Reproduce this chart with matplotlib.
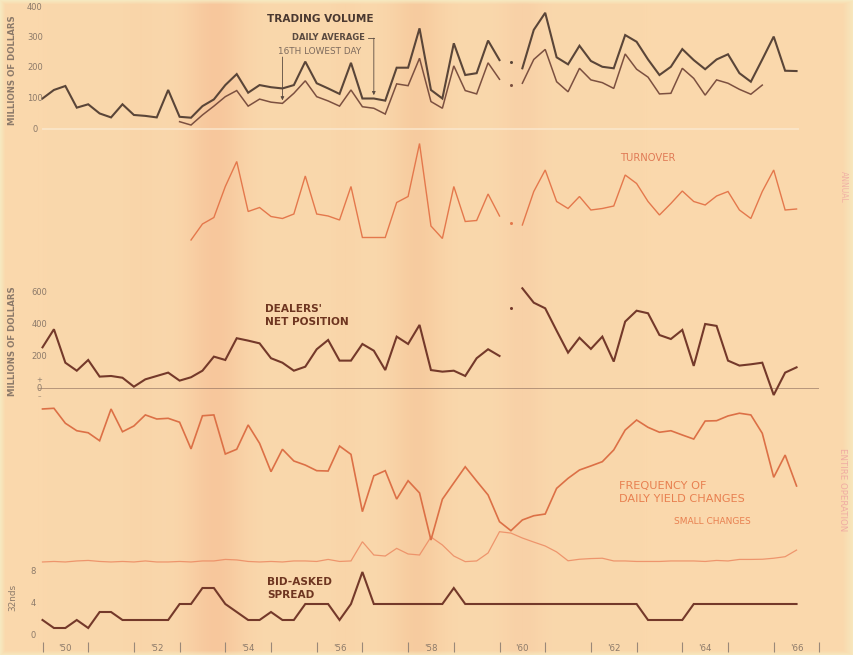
import numpy as np
import matplotlib
matplotlib.use("Agg")
import matplotlib.pyplot as plt
from matplotlib.transforms import blended_transform_factory

# ---------------------------------------------------------------- data
# quarterly observations, 1950 Q1 through 1966 Q3
quarters = 1950 + np.arange(67) * 0.25
BREAK = 41  # 1960 Q2 is shown as an isolated point

# trading volume, millions of dollars
volume_daily_avg = [100, 128, 141, 70, 81, 51, 38, 81, 46, 43, 38, 128, 40, 37, 75, 97,
                    144, 180, 119, 144, 137, 133, 144, 221, 150, 133, 115, 217, 100, 100, 93, 201,
                    201, 330, 128, 100, 281, 177, 183, 290, 226, 221, 199, 325, 381, 235, 212, 273,
                    223, 204, 199, 308, 286, 228, 177, 204, 262, 226, 196, 228, 245, 183, 155, 228,
                    303, 191, 190]
volume_16th_lowest = [None] * 12 + [24, 13, 46, 75,
                      106, 126, 75, 98, 88, 84, 117, 158, 106, 92, 75, 128, 73, 68, 49, 148,
                      142, 232, 90, 68, 207, 126, 115, 217, 163, 144, 150, 228, 261, 155, 122, 199,
                      161, 152, 133, 246, 196, 170, 115, 117, 199, 166, 111, 161, 150, 130, 114, 144,
                      None, None, None]

# turnover (index units)
turnover = [None] * 13 + [2.4, 5.6, 6.9,
            13.1, 18.1, 8.1, 8.9, 7.1, 6.7, 7.6, 15.2, 7.6, 7.2, 6.4, 13.1, 2.9, 2.9, 2.9, 9.9,
            11.1, 21.7, 5.2, 2.7, 13.1, 6.1, 6.3, 11.6, 7.2, 5.9, 5.4, 12.1, 16.4, 10.1, 8.7, 11.1,
            8.4, 8.7, 9.2, 15.4, 13.7, 10.1, 7.4, 9.7, 12.2, 10.1, 9.4, 11.2, 12.1, 8.4, 6.7, 12.1,
            16.4, 8.4, 8.6]

# dealers' net position, millions of dollars
dealers_position = [256, 369, 160, 110, 177, 73, 77, 66, 10, 56, 77, 98, 48, 69, 110, 198,
                    177, 313, 298, 281, 188, 160, 110, 135, 244, 302, 173, 173, 277, 235, 114, 323,
                    277, 396, 114, 104, 110, 77, 188, 244, 202, 504, 625, 535, 500, 360, 223, 316,
                    246, 323, 167, 417, 485, 469, 333, 308, 365, 140, 402, 390, 173, 142, 150, 160,
                    -42, 98, 131]

# frequency of daily yield changes, percent of days
freq_all_changes = [95.9, 96.3, 87.5, 83.1, 81.9, 77.2, 95.9, 82.5, 85.9, 92.4, 90.0, 90.4,
                    88.1, 72.4, 91.9, 92.4, 69.4, 72.2, 86.5, 75.7, 59.0, 72.2, 65.3, 62.9,
                    59.6, 59.4, 74.1, 69.2, 35.5, 56.6, 59.6, 42.9, 53.7, 46.5, 18.8, 42.8,
                    52.4, 61.9, 53.5, 45.3, 29.6, 24.3, 30.6, 33.1, 34.1, 49.2, 55.1, 60.0,
                    62.4, 64.9, 71.8, 83.5, 89.4, 85.1, 82.2, 83.1, 80.6, 78.2, 88.8, 89.0,
                    91.8, 93.4, 92.4, 81.6, 55.7, 68.8, 50.6]
freq_small_changes = [5.9, 6.2, 5.9, 6.5, 6.8, 6.2, 5.9, 6.2, 5.9, 6.5, 5.9, 5.9,
                      6.2, 5.9, 6.5, 6.5, 7.4, 7.1, 6.2, 5.9, 6.2, 5.9, 6.5, 6.5,
                      6.2, 7.4, 6.2, 6.5, 17.8, 10.0, 9.4, 13.9, 10.6, 10.0, 20.6, 15.9,
                      9.4, 6.1, 6.5, 11.2, 23.7, 22.9, 20.0, 17.6, 15.3, 11.8, 6.6, 7.5,
                      7.9, 8.1, 6.5, 6.5, 6.2, 6.2, 6.2, 6.5, 6.5, 6.5, 6.2, 6.8,
                      6.5, 7.4, 7.4, 7.5, 8.1, 9.0, 12.9]

# bid-asked spread, 32nds
bid_asked_spread = [2, 1, 1, 2, 1, 3, 3, 2, 2, 2, 2, 2, 4, 4, 6, 6,
                    4, 3, 2, 2, 3, 2, 2, 4, 4, 4, 2, 4, 8, 4, 4, 4,
                    4, 4, 4, 4, 6, 4, 4, 4, 4, 4, 4, 4, 4, 4, 4, 4,
                    4, 4, 4, 4, 4, 2, 2, 2, 2, 4, 4, 4, 4, 4, 4, 4,
                    4, 4, 4]

year_ticks = np.arange(1950, 1968)
label_years = np.arange(1950, 1967, 2)
year_labels = ["'%02d" % (y % 100) for y in label_years]

# ---------------------------------------------------------------- style
W, H, DPI = 854, 655, 100
PAPER = np.array([250, 216, 172]) / 255
DARK = "#5a4538"
BROWN = "#74392a"
SALMON = "#e4784c"
SALMON_LIGHT = "#ec8a62"
GREY_TXT = "#8c7a6a"

plt.rcParams["font.family"] = ["DejaVu Sans"]

fig = plt.figure(figsize=(W / DPI, H / DPI), dpi=DPI)
fig.patch.set_facecolor(PAPER)

# paper tone: warm base with a few darker vertical bands and a pale rim
bg = np.ones((H, W, 3)) * PAPER
xs = np.arange(W)
for cx, sd, rgb, k in [(215, 20, (246, 192, 150), 0.7), (417, 18, (245, 197, 152), 0.65),
                       (522, 15, (247, 202, 162), 0.5), (140, 12, (248, 206, 162), 0.3),
                       (345, 10, (248, 206, 162), 0.3)]:
    wgt = (np.exp(-0.5 * ((xs - cx) / sd) ** 2) * k)[None, :, None]
    bg = bg * (1 - wgt) + np.array(rgb)[None, None, :] / 255 * wgt
ys = np.arange(H)
rim = np.zeros((H, W))
rim = np.maximum(rim, np.clip((5 - xs[None, :]) / 5, 0, 1))
rim = np.maximum(rim, np.clip((xs[None, :] - 842) / 12, 0, 1))
rim = np.maximum(rim, np.clip((4 - ys[:, None]) / 4, 0, 1))
rim = np.maximum(rim, np.clip((ys[:, None] - 650) / 5, 0, 1))
rim = rim[:, :, None] * 0.7
bg = bg * (1 - rim) + np.array([245, 240, 200])[None, None, :] / 255 * rim
ax_bg = fig.add_axes([0, 0, 1, 1], zorder=-10)
ax_bg.imshow(bg, aspect="auto", extent=(0, W, H, 0), interpolation="bilinear")
ax_bg.axis("off")

X_1950, X_PER_YEAR = 42.5, 45.7
LEFT_PX, RIGHT_PX = 30, 830
XLIM = (1950 + (LEFT_PX - X_1950) / X_PER_YEAR, 1950 + (RIGHT_PX - X_1950) / X_PER_YEAR)


def panel(top, bottom, ylim):
    ax = fig.add_axes([LEFT_PX / W, 1 - bottom / H, (RIGHT_PX - LEFT_PX) / W, (bottom - top) / H])
    ax.set_xlim(*XLIM)
    ax.set_ylim(*ylim)
    ax.patch.set_alpha(0)
    for s in ax.spines.values():
        s.set_visible(False)
    ax.set_xticks([])
    ax.set_yticks([])
    return ax


def series(ax, values, color, lw, gap=True, **kw):
    v = np.array([np.nan if x is None else x for x in values], dtype=float)
    if gap:
        lone = v[BREAK]
        v = v.copy()
        v[BREAK] = np.nan
        ax.plot(quarters, v, color=color, lw=lw, solid_joinstyle="miter", **kw)
        if not np.isnan(lone):
            ax.plot([quarters[BREAK]], [lone], "o", ms=2.2, color=color, mec="none")
    else:
        ax.plot(quarters, v, color=color, lw=lw, solid_joinstyle="miter", **kw)


def ytick_text(ax, values, x_px, **kw):
    tr = blended_transform_factory(fig.transFigure, ax.transData)
    for v in values:
        ax.text(x_px / W, v, str(v), transform=tr, ha="center", va="center",
                fontsize=6, color=GREY_TXT, **kw)


def ftext(x, y, s, **kw):
    kw.setdefault("va", "center")
    kw.setdefault("ha", "left")
    fig.text(x / W, 1 - y / H, s, **kw)


# ---------------------------------------------------------------- trading volume
ax1 = panel(5, 135, ((129 - 135) / 0.305, (129 - 5) / 0.305))
ax1.axhline(0, xmin=0.016, xmax=0.96, color="#fbead2", lw=1.4, alpha=0.7)
series(ax1, volume_16th_lowest, "#7c5040", 1.1)
series(ax1, volume_daily_avg, DARK, 1.5)
ytick_text(ax1, [0, 100, 200, 300, 400], 35)
ftext(13, 70, "MILLIONS OF DOLLARS", rotation=90, ha="center", fontsize=6.2, color=GREY_TXT,
      fontweight="bold")
ftext(267, 19, "TRADING VOLUME", fontsize=7.6, fontweight="bold", color="#4a3830")
ftext(292, 38, "DAILY AVERAGE", fontsize=6, fontweight="bold", color="#5a4a40")
ftext(278, 52, "16TH LOWEST DAY", fontsize=6.4, color="#7d6a5d")
arrow = dict(arrowstyle="-|>", lw=0.6, color="#5a4a40", mutation_scale=5, shrinkA=0, shrinkB=0)
ax1.annotate("", xy=(quarters[21], volume_16th_lowest[21] + 10), xytext=(quarters[21], 236),
             arrowprops=arrow)
ax1.plot([1957.13, quarters[29]], [298, 298], color="#5a4a40", lw=0.6)
ax1.annotate("", xy=(quarters[29], volume_daily_avg[29] + 11), xytext=(quarters[29], 298),
             arrowprops=arrow)

# ---------------------------------------------------------------- turnover
ax2 = panel(138, 252, (0, (252 - 138) / 5))
series(ax2, turnover, SALMON, 1.0)
ftext(620, 158, "TURNOVER", fontsize=7.2, color="#e07a55")

# ---------------------------------------------------------------- dealers' net position
ax3 = panel(280, 398, ((388.3 - 398) * 6.25, (388.3 - 280) * 6.25))
ax3.axhline(0, xmin=(38 - LEFT_PX) / (RIGHT_PX - LEFT_PX), xmax=(818 - LEFT_PX) / (RIGHT_PX - LEFT_PX),
            color="#8a6a5a", lw=0.7, alpha=0.6)
series(ax3, dealers_position, BROWN, 1.5)
ytick_text(ax3, [0, 200, 400, 600], 39)
ftext(39.3, 380, "+", ha="center", fontsize=5, color=GREY_TXT)
ftext(39.3, 396, "\u2013", ha="center", fontsize=5, color=GREY_TXT)
ftext(13, 341, "MILLIONS OF DOLLARS", rotation=90, ha="center", fontsize=6.2, color=GREY_TXT,
      fontweight="bold")
ftext(265, 309, "DEALERS'", fontsize=7.6, fontweight="bold", color="#6e3520")
ftext(265, 322, "NET POSITION", fontsize=7.6, fontweight="bold", color="#6e3520")

# ---------------------------------------------------------------- yield-change frequency
ax4 = panel(400, 572, (0, (572 - 400) / 1.7))
series(ax4, freq_small_changes, SALMON_LIGHT, 0.9, gap=False, alpha=0.85)
series(ax4, freq_all_changes, "#dc7046", 1.2, gap=False)
ftext(619, 486, "FREQUENCY OF", fontsize=8.1, color="#e88050")
ftext(619, 499.5, "DAILY YIELD CHANGES", fontsize=8.1, color="#e88050")
ftext(674, 521.5, "SMALL CHANGES", fontsize=6.5, color="#e88050")

# ---------------------------------------------------------------- bid-asked spread
ax5 = panel(565, 647, ((636 - 647) / 8, (636 - 565) / 8))
series(ax5, bid_asked_spread, BROWN, 1.5, gap=False)
ytick_text(ax5, [0, 4, 8], 33.5)
ftext(13, 597, "32nds", rotation=90, ha="center", fontsize=6.4, color=GREY_TXT)
ftext(267, 582, "BID-ASKED", fontsize=7.6, fontweight="bold", color="#6e3520")
ftext(267, 594.5, "SPREAD", fontsize=7.6, fontweight="bold", color="#6e3520")

# year axis: boundary ticks, labels centred on the year
ax5.set_xticks(year_ticks)
ax5.set_xticklabels([])
ax5.tick_params(axis="x", which="major", direction="inout", length=6.5, width=0.8, color="#9a8878")
ax5.set_xticks(label_years + 0.5, minor=True)
ax5.set_xticklabels(year_labels, minor=True)
ax5.tick_params(axis="x", which="minor", length=0, pad=-2.5, labelsize=6.2, labelcolor=GREY_TXT)

# margin notes
ftext(843, 187, "ANNUAL", rotation=-90, ha="center", fontsize=5.5, color="#eda0a0", alpha=0.7)
ftext(843, 490, "ENTIRE OPERATION", rotation=-90, ha="center", fontsize=6.2, color="#eda0a0",
      alpha=0.8)

fig.savefig("out.png", dpi=DPI, facecolor=fig.get_facecolor())
